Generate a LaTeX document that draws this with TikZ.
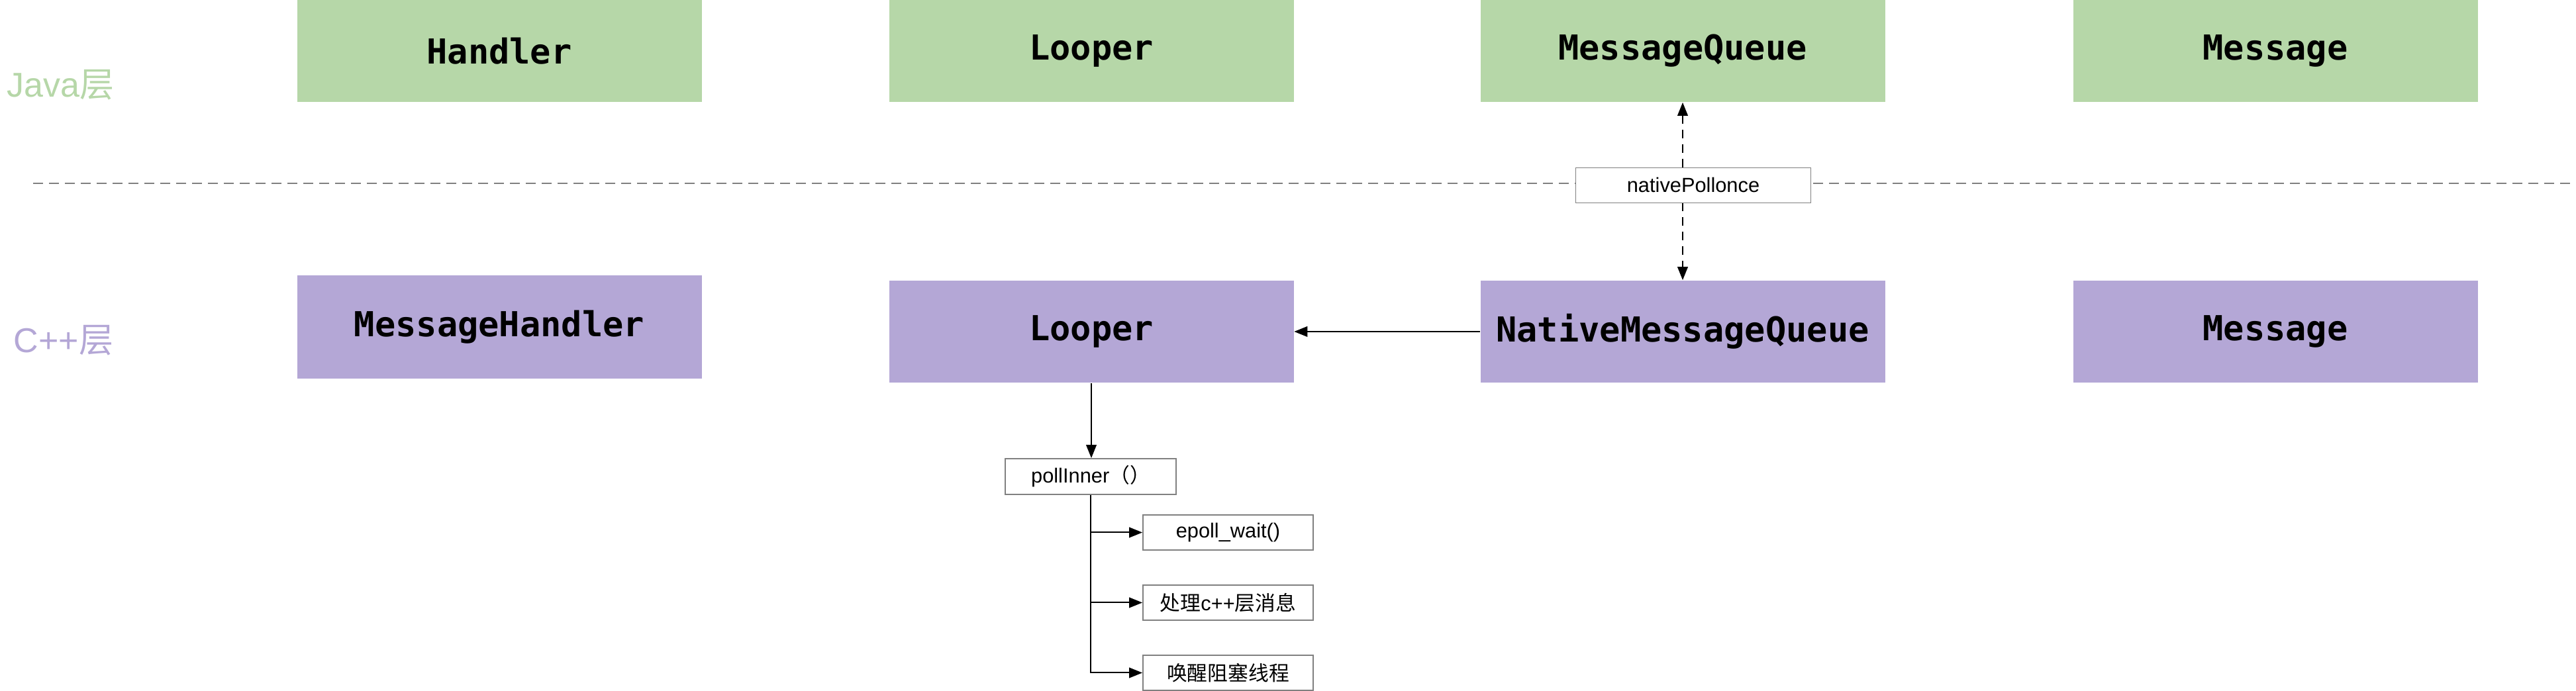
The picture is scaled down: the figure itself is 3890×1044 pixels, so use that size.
\documentclass[tikz,border=0pt]{standalone}
\usepackage{fontspec}
\setmainfont{Liberation Sans}
\newfontfamily\cjk{Noto Sans CJK SC}
\newfontfamily\mono{DejaVu Sans Mono}
\usetikzlibrary{arrows.meta}
\definecolor{jgreen}{HTML}{B6D7A8}
\definecolor{cpurple}{HTML}{B4A7D6}
\definecolor{boxgray}{HTML}{808080}
\definecolor{sepgray}{HTML}{808080}
\begin{document}
\begin{tikzpicture}[x=0.25pt,y=-0.25pt,
  >={Triangle[length=5pt,width=3.9pt]},
  big/.style={inner sep=0pt,minimum width=152.75pt,minimum height=38.5pt,
    font=\mono\bfseries\fontsize{13}{15}\selectfont},
  jbox/.style={big,fill=jgreen},
  cbox/.style={big,fill=cpurple},
  small/.style={draw=boxgray,line width=0.45pt,fill=white,inner sep=0pt,
    minimum height=13.25pt,font=\fontsize{7.7}{9}\selectfont},
  layer/.style={anchor=west,inner sep=0pt,font=\fontsize{13}{15}\selectfont},
  arr/.style={->,line width=0.5pt,draw=black}]
\useasboundingbox (0,0) rectangle (3890,1044);

% separator
\coordinate (sepL) at (50,277);
\coordinate (sepR) at (3890,277);
\draw[sepgray,line width=0.5pt,dash pattern=on 3.75pt off 2.25pt] (sepL) -- (sepR);

% layer labels
\node[layer,text=jgreen] (javalbl) at (10,128) {Java{\cjk 层}};
\node[layer,text=cpurple] (cpplbl) at (20,514) {C++{\cjk 层}};

% Java layer
\node[jbox] (jh) at (754,77) {Handler};
\node[jbox] (jl) at (1648,77) {Looper};
\node[jbox] (jmq) at (2541,77) {MessageQueue};
\node[jbox] (jm) at (3436,77) {Message};

% C++ layer
\node[cbox,minimum height=39pt] (ch) at (754,494) {MessageHandler};
\node[cbox] (cl) at (1648,501) {Looper};
\node[cbox] (cmq) at (2541,501) {NativeMessageQueue};
\node[cbox] (cm) at (3436,501) {Message};

% nativePollonce
\draw[<->,line width=0.5pt,dash pattern=on 3.3pt off 2.2pt] (jmq.south) -- (cmq.north);
\node[small,minimum width=88.75pt] (npo) at (2557,280) {nativePollonce};

% Native -> Looper
\draw[arr] (cmq.west) -- (cl.east);

% pollInner
\node[small,minimum width=64.5pt,minimum height=13.5pt] (pi) at (1647,720) {pollInner{\cjk （）}};
\draw[arr] (cl.south) -- (cl.south |- pi.north);

\node[small,minimum width=64.25pt] (c1) at (1854.5,804.5) {epoll\_wait()};
\node[small,minimum width=64.25pt] (c2) at (1854.5,910.5) {{\cjk 处理}c++{\cjk 层消息}};
\node[small,minimum width=64.25pt] (c3) at (1854.5,1016.5) {\cjk 唤醒阻塞线程};

\draw[arr] (pi.south) |- (c1.west);
\draw[arr] (pi.south) |- (c2.west);
\draw[arr] (pi.south) |- (c3.west);
\end{tikzpicture}
\end{document}
